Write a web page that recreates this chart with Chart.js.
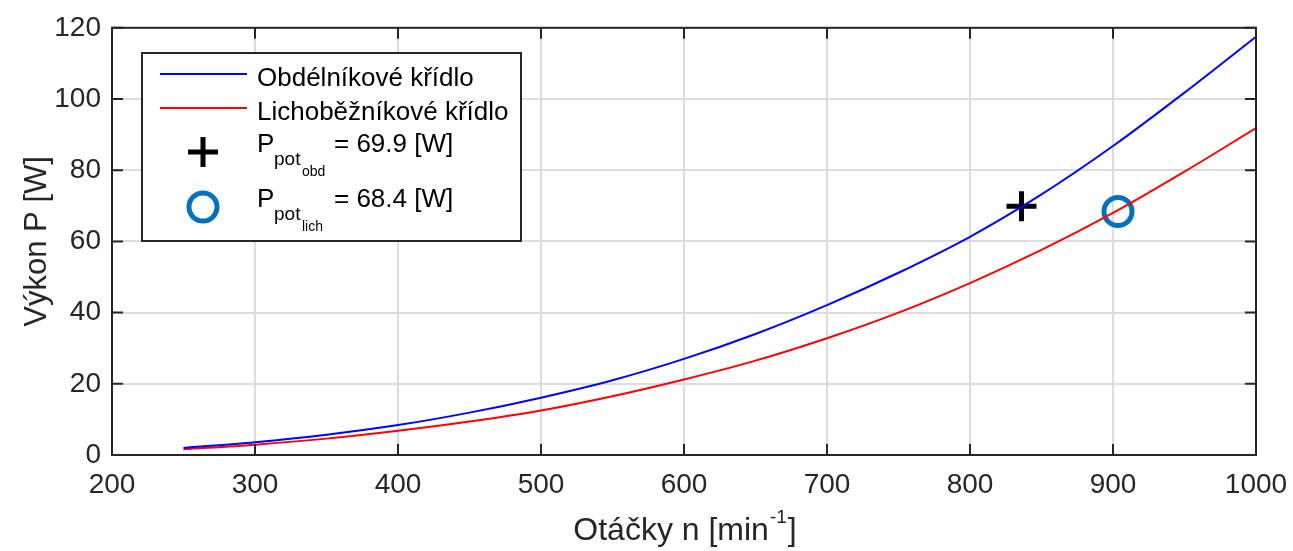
<!DOCTYPE html>
<html>
<head>
<meta charset="utf-8">
<script src="https://cdn.jsdelivr.net/npm/chart.js@4.4.0/dist/chart.umd.min.js"></script>
<style>
html, body { margin: 0; padding: 0; background: #fff; }
#wrap { width: 1293px; height: 551px; }
</style>
</head>
<body>
<div id="wrap"><canvas id="myChart"></canvas></div>
<script>
// values
const otacky = [250, 300, 350, 400, 450, 500, 550, 600, 650, 700, 750, 800, 850, 900, 950, 1000];
const vykonObd = [2.0, 3.6, 5.7, 8.4, 11.9, 16.1, 21.0, 27.0, 34.0, 42.1, 51.2, 61.3, 73.2, 86.8, 101.8, 117.5];
const vykonLich = [1.6, 2.9, 4.6, 6.8, 9.4, 12.5, 16.5, 21.2, 26.5, 32.8, 40.0, 48.3, 57.6, 68.0, 79.6, 91.8];
const bodObd = [836, 69.9];
const bodLich = [903.5, 68.4];
const xTicks = [200, 300, 400, 500, 600, 700, 800, 900, 1000];
const yTicks = [0, 20, 40, 60, 80, 100, 120];

const textColor = '#262626';
const fontName = '"Liberation Sans", Arial, Helvetica, sans-serif';

function toPoints(xs, ys) {
    return xs.map((x, i) => ({ x: x, y: ys[i] }));
}

/*------------------------------------------------ box, inward ticks, x title --------------------------------------*/
const boxPlugin = {
    id: 'boxPlugin',
    afterDraw(chart) {
        const ctx = chart.ctx;
        const a = chart.chartArea;
        const sx = chart.scales.x;
        const sy = chart.scales.y;
        const tick = 11;
        ctx.save();
        ctx.strokeStyle = textColor;
        ctx.lineWidth = 2;
        ctx.strokeRect(a.left, a.top, a.right - a.left, a.bottom - a.top);
        ctx.beginPath();
        xTicks.forEach(v => {
            let px = sx.getPixelForValue(v);
            ctx.moveTo(px, a.bottom); ctx.lineTo(px, a.bottom - tick);
            ctx.moveTo(px, a.top); ctx.lineTo(px, a.top + tick);
        });
        yTicks.forEach(v => {
            let py = sy.getPixelForValue(v);
            ctx.moveTo(a.left, py); ctx.lineTo(a.left + tick, py);
            ctx.moveTo(a.right, py); ctx.lineTo(a.right - tick, py);
        });
        ctx.stroke();

        // x axis title with superscript
        ctx.fillStyle = textColor;
        ctx.textBaseline = 'alphabetic';
        ctx.textAlign = 'left';
        let mainFont = '32px ' + fontName;
        let supFont = '19px ' + fontName;
        let t1 = 'Otáčky n [min', t2 = '-1', t3 = ']';
        ctx.font = mainFont; let w1 = ctx.measureText(t1).width; let w3 = ctx.measureText(t3).width;
        ctx.font = supFont; let w2 = ctx.measureText(t2).width;
        let cx = (a.left + a.right) / 2;
        let x0 = cx - (w1 + w2 + w3) / 2;
        let base = 540;
        ctx.font = mainFont; ctx.fillText(t1, x0, base);
        ctx.font = supFont; ctx.fillText(t2, x0 + w1 + 1, base - 17);
        ctx.font = mainFont; ctx.fillText(t3, x0 + w1 + w2 + 2, base);
        ctx.restore();
    }
};

/*------------------------------------------------ legend ----------------------------------------------------------*/
const legendPlugin = {
    id: 'legendPlugin',
    afterDraw(chart) {
        const ctx = chart.ctx;
        const L = 142, T = 53, R = 521, B = 241;
        ctx.save();
        ctx.fillStyle = '#ffffff';
        ctx.fillRect(L, T, R - L, B - T);
        ctx.strokeStyle = textColor;
        ctx.lineWidth = 2;
        ctx.strokeRect(L, T, R - L, B - T);

        // line samples
        ctx.lineWidth = 2;
        ctx.strokeStyle = '#0000ff';
        ctx.beginPath(); ctx.moveTo(160, 74); ctx.lineTo(247, 74); ctx.stroke();
        ctx.strokeStyle = '#ff0000';
        ctx.beginPath(); ctx.moveTo(160, 108); ctx.lineTo(247, 108); ctx.stroke();

        // plus marker
        ctx.strokeStyle = '#000000';
        ctx.lineWidth = 5;
        ctx.beginPath();
        ctx.moveTo(203 - 15, 152); ctx.lineTo(203 + 15, 152);
        ctx.moveTo(203, 152 - 15); ctx.lineTo(203, 152 + 15);
        ctx.stroke();
        // circle marker
        ctx.strokeStyle = '#0072bd';
        ctx.beginPath(); ctx.arc(203, 207, 14, 0, Math.PI * 2); ctx.stroke();

        // texts
        ctx.fillStyle = '#000000';
        ctx.textAlign = 'left';
        ctx.textBaseline = 'alphabetic';
        const f = s => s + 'px ' + fontName;
        ctx.font = f(26);
        ctx.fillText('Obdélníkové křídlo', 257, 86);
        ctx.fillText('Lichoběžníkové křídlo', 257, 120);

        function sublabel(y, sub, value) {
            ctx.font = f(26); ctx.fillText('P', 257, y);
            ctx.font = f(19); ctx.fillText('pot', 274, y + 13);
            ctx.font = f(14); ctx.fillText(sub, 302, y + 24);
            ctx.font = f(26); ctx.fillText('= ' + value + ' [W]', 334, y);
        }
        sublabel(152, 'obd', bodObd[1].toFixed(1));
        sublabel(207, 'lich', bodLich[1].toFixed(1));
        ctx.restore();
    }
};

var ctx = document.getElementById('myChart').getContext('2d');
var myChart = new Chart(ctx, {
    type: 'line',
    data: {
        datasets: [
            {
                label: 'Obdélníkové křídlo',
                data: toPoints(otacky, vykonObd),
                borderColor: '#0000ff',
                borderWidth: 2,
                pointRadius: 0,
                cubicInterpolationMode: 'monotone',
                fill: false
            },
            {
                label: 'Lichoběžníkové křídlo',
                data: toPoints(otacky, vykonLich),
                borderColor: '#ff0000',
                borderWidth: 2,
                pointRadius: 0,
                cubicInterpolationMode: 'monotone',
                fill: false
            },
            {
                label: 'P pot obd',
                data: [{ x: bodObd[0], y: bodObd[1] }],
                showLine: false,
                pointStyle: 'cross',
                pointRadius: 15,
                pointBorderWidth: 5,
                pointBorderColor: '#000000',
                pointBackgroundColor: '#000000'
            },
            {
                label: 'P pot lich',
                data: [{ x: bodLich[0], y: bodLich[1] }],
                showLine: false,
                pointStyle: 'circle',
                pointRadius: 14,
                pointBorderWidth: 5,
                pointBorderColor: '#0072bd',
                pointBackgroundColor: 'rgba(0,0,0,0)'
            }
        ]
    },
    options: {
        responsive: true,
        maintainAspectRatio: false,
        animation: false,
        devicePixelRatio: 1,
        layout: { padding: { top: 24, right: 37, left: 0, bottom: 0 } },
        scales: {
            x: {
                type: 'linear',
                min: 200,
                max: 1000,
                afterFit: s => { s.height = 96; s.paddingRight = 0; s.paddingLeft = 0; },
                afterBuildTicks: s => { s.ticks = xTicks.map(v => ({ value: v })); },
                grid: { color: '#dcdcdc', lineWidth: 2, drawTicks: false },
                border: { display: false },
                ticks: {
                    color: textColor, font: { size: 28, family: fontName }, padding: 13, maxRotation: 0,
                    callback: v => String(v)
                }
            },
            y: {
                min: 0,
                max: 120,
                afterFit: s => { s.width = 112; },
                afterBuildTicks: s => { s.ticks = yTicks.map(v => ({ value: v })); },
                grid: { color: '#dcdcdc', lineWidth: 2, drawTicks: false },
                border: { display: false },
                ticks: { color: textColor, font: { size: 28, family: fontName }, padding: 11 },
                title: {
                    display: true,
                    text: 'Výkon P [W]',
                    color: textColor,
                    font: { size: 31, family: fontName },
                    padding: { top: 19, bottom: 0 }
                }
            }
        },
        plugins: {
            legend: { display: false },
            tooltip: { enabled: false }
        }
    },
    plugins: [boxPlugin, legendPlugin]
});
</script>
</body>
</html>
